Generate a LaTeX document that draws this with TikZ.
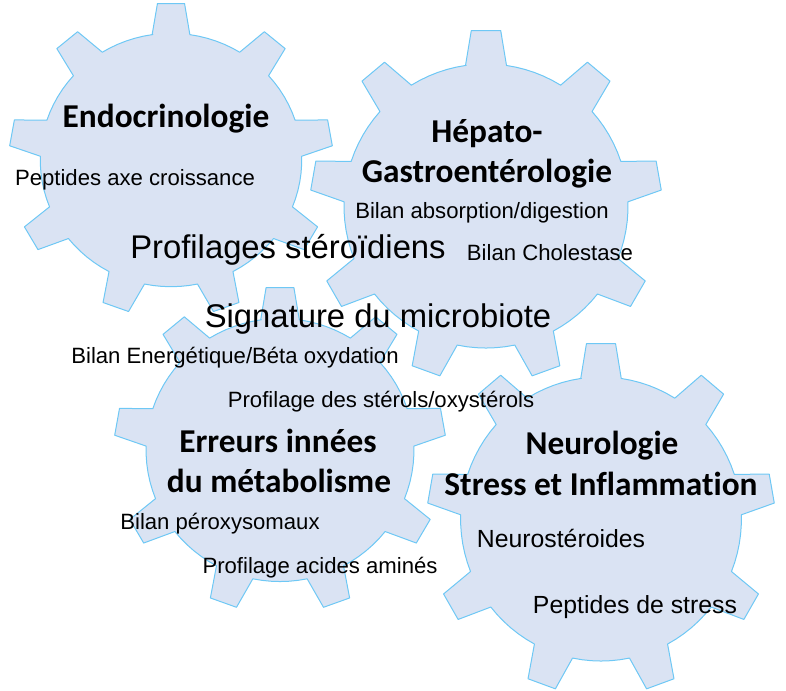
\documentclass[tikz,border=0pt]{standalone}
\usepackage{fontspec}
\setmainfont{Liberation Sans}[Ligatures=NoCommon]
\newfontfamily\titlefont{Carlito}[Ligatures=NoCommon]

\definecolor{gearfill}{RGB}{218,227,243}
\definecolor{gearline}{RGB}{110,200,245}

\tikzset{
	gear/.style={fill=gearfill, draw=gearline, line width=0.75pt, line join=round},
	gtitle/.style={anchor=base, inner sep=0pt, font=\titlefont\bfseries\fontsize{25}{30}\selectfont},
	lbl/.style={anchor=base, inner sep=0pt, font=\fontsize{16.6}{20}\selectfont},
	midlbl/.style={anchor=base, inner sep=0pt, font=\fontsize{18.6}{22}\selectfont},
	biglbl/.style={anchor=base, inner sep=0pt, font=\fontsize{24.6}{30}\selectfont}
}

\begin{document}
\begin{tikzpicture}[x=0.75pt, y=-0.75pt]
	
	\useasboundingbox (0,0) rectangle (786,690);
	
	% Gears (9 teeth, one on top)
	\foreach \cx/\cy/\rx/\ry in {171/160/162/157, 486/206/176/176, 280/450/166/163, 601/519/174/176} {
		\pgfmathsetmacro\bx{0.807*\rx}
		\pgfmathsetmacro\by{0.807*\ry}
		\begin{scope}[shift={(\cx,\cy)}]
			\draw[gear] (-98:{\bx} and {\by})
				\foreach \a in {-90,-50,...,230} {
					-- ({\a-8.3}:{\bx} and {\by}) -- ({\a-4.8}:{\rx} and {\ry})
					-- ({\a+4.8}:{\rx} and {\ry}) -- ({\a+8.3}:{\bx} and {\by})
					-- plot[domain=\a+8.3:\a+31.7, samples=7] (\x:{\bx} and {\by})
				} -- cycle;
		\end{scope}
	}
	
	% Titles
	\node[gtitle] (endo) at (166,127) {Endocrinologie};
	\node[gtitle] (hepatoA) at (487,142) {Hépato-};
	\node[gtitle] (hepatoB) at (487,182) {Gastroentérologie};
	\node[gtitle] (erreursA) at (278,452) {Erreurs innées};
	\node[gtitle] (erreursB) at (279,492) {du métabolisme};
	\node[gtitle] (neuroA) at (602,454) {Neurologie};
	\node[gtitle] (neuroB) at (601,495) {Stress et Inflammation};
	
	% Shared profiles
	\node[biglbl] (steroides) at (288,258) {Profilages stéroïdiens};
	\node[biglbl] (microbiote) at (378,327) {Signature du microbiote};
	
	% Analyses
	\node[lbl] (croissance) at (135,185) {Peptides axe croissance};
	\node[lbl] (absorption) at (482,218) {Bilan absorption/digestion};
	\node[lbl] (cholestase) at (550,260) {Bilan Cholestase};
	\node[lbl] (energie) at (235,363) {Bilan Energétique/Béta oxydation};
	\node[lbl] (sterols) at (381,407) {Profilage des stérols/oxystérols};
	\node[lbl] (peroxy) at (220,529) {Bilan péroxysomaux};
	\node[lbl] (amines) at (320,573) {Profilage acides aminés};
	\node[midlbl] (neurost) at (561,547) {Neurostéroides};
	\node[midlbl] (stress) at (635,613) {Peptides de stress};
	
\end{tikzpicture}
\end{document}
